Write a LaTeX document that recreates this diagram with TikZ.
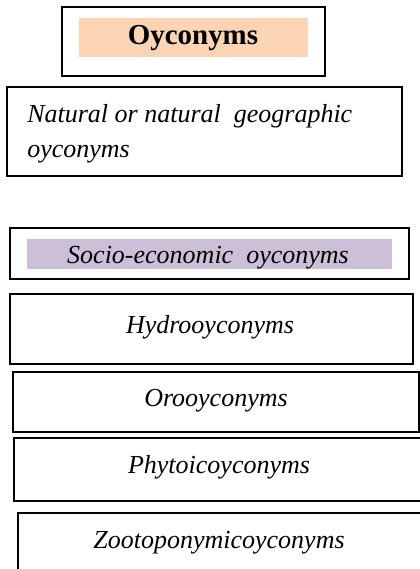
\documentclass[tikz,border=0pt]{standalone}
\usepackage{fontspec}
\setmainfont{Liberation Serif}
\definecolor{peach}{HTML}{FBD4B4}
\definecolor{lilac}{HTML}{CCC0D9}
\begin{document}
\begin{tikzpicture}[x=0.75pt, y=-0.75pt, box/.style={draw, line width=1.2pt}, lbl/.style={inner sep=0pt, anchor=base, font=\fontsize{19.5}{26.25}\selectfont\itshape}]
	\clip (0,0) rectangle (420,569);
	\fill[peach] (79,18) rectangle (308,57); \fill[lilac] (27,239) rectangle (392,269);
	\draw[box, line width=1.5pt] (62,7) rectangle (325,76);
	\draw[box] (7,87) rectangle (402,176); \draw[box] (10,228) rectangle (409,279); \draw[box] (10,294) rectangle (413,364);
	\draw[box] (13,372) rectangle (419,432); \draw[box] (14,438) rectangle (430,501); \draw[box] (18,513) rectangle (430,590);

	\node[lbl, font=\fontsize{21.7}{26}\selectfont\bfseries] (oyc) at (193,44) {Oyconyms};
	\node[lbl, anchor=base west] (nat) at (27,122) {Natural or natural\ \ geographic};
	\node[lbl, anchor=base west] (natb) at (27,157) {oyconyms};
	\node[lbl] (soc) at (208,263) {Socio-economic\ \ oyconyms};
	\node[lbl] (hyd) at (210,333) {Hydrooyconyms};
	\node[lbl] (oro) at (216,406) {Orooyconyms};
	\node[lbl] (phy) at (219,473) {Phytoicoyconyms};
	\node[lbl] (zoo) at (219,548) {Zootoponymicoyconyms};
\end{tikzpicture}
\end{document}
